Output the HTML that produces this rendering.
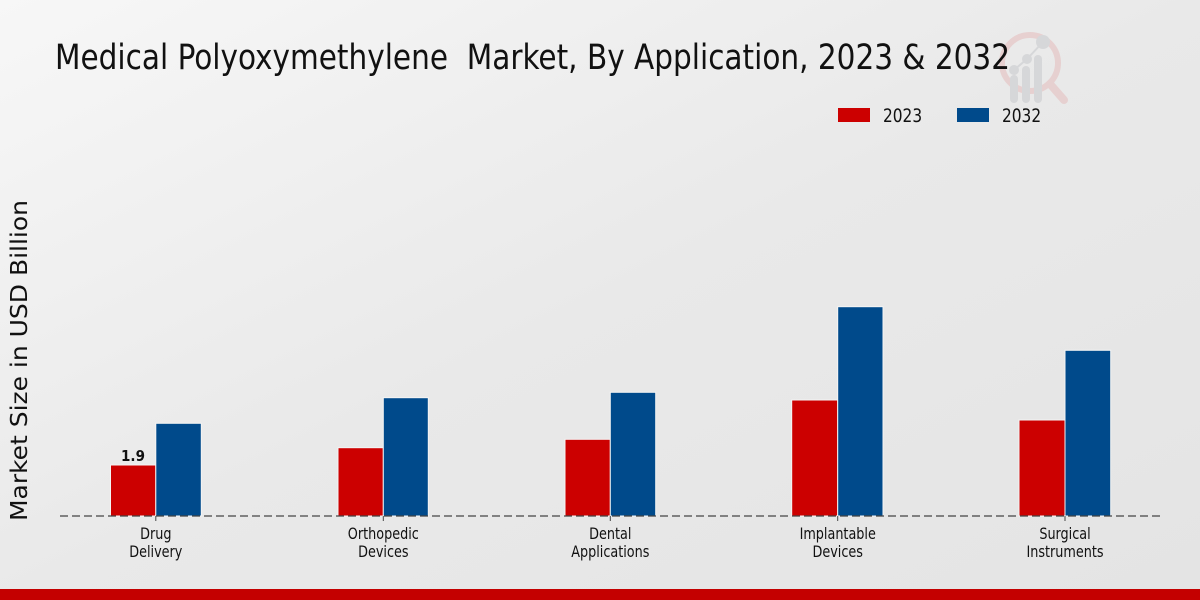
<!DOCTYPE html>
<html><head><meta charset="utf-8"><style>
html,body{margin:0;padding:0;width:1200px;height:600px;overflow:hidden}
svg{display:block}
text{font-family:"DejaVu Sans Condensed","DejaVu Sans","Liberation Sans",sans-serif;}
</style></head><body>
<svg width="1200" height="600" viewBox="0 0 1200 600" xmlns="http://www.w3.org/2000/svg">
<defs>
<linearGradient id="bg" x1="0" y1="0" x2="1" y2="1">
<stop offset="0" stop-color="#f7f7f7"/>
<stop offset="0.5" stop-color="#e9e9e9"/>
<stop offset="1" stop-color="#e4e4e4"/>
</linearGradient>
</defs>
<rect x="0" y="0" width="1200" height="600" fill="url(#bg)"/>
<!-- logo watermark -->
<g opacity="0.75">
<circle cx="1030" cy="63" r="28" fill="none" stroke="#e6c8c8" stroke-width="6"/>
<line x1="1050" y1="84" x2="1064" y2="100" stroke="#e6c8c8" stroke-width="8" stroke-linecap="round"/>
<rect x="1010" y="75" width="8" height="28" rx="4" fill="#d0d1d4"/>
<rect x="1022" y="66" width="8" height="37" rx="4" fill="#d0d1d4"/>
<rect x="1034" y="55" width="8" height="48" rx="4" fill="#d0d1d4"/>
<circle cx="1014" cy="70" r="5" fill="#d0d1d4"/>
<circle cx="1027" cy="59" r="5" fill="#d0d1d4"/>
<circle cx="1043" cy="42" r="7" fill="#d0d1d4"/>
<polyline points="1014,70 1027,59 1043,42" fill="none" stroke="#d0d1d4" stroke-width="2"/>
</g>
<!-- title -->
<text x="55" y="69" font-size="35" fill="#111" textLength="955" lengthAdjust="spacingAndGlyphs">Medical Polyoxymethylene&#160; Market, By Application, 2023 &amp; 2032</text>
<!-- legend -->
<rect x="838" y="108" width="32" height="14" fill="#cc0000"/>
<g transform="translate(883,122) scale(0.9,1)"><text x="0" y="0" font-size="19" fill="#111">2023</text></g>
<rect x="957" y="108" width="32" height="14" fill="#004a8b"/>
<g transform="translate(1002,122) scale(0.9,1)"><text x="0" y="0" font-size="19" fill="#111">2032</text></g>
<!-- y axis label -->
<text transform="translate(27,521) rotate(-90)" x="0" y="0" font-size="23" fill="#111" font-family="DejaVu Sans, sans-serif" textLength="321" lengthAdjust="spacingAndGlyphs">Market Size in USD Billion</text>
<!-- bars -->
<g stroke="#f4f4f4" stroke-width="1">
<rect x="110.5" y="465" width="45.3" height="51" fill="#cc0000"/>
<rect x="155.8" y="423.3" width="45.5" height="92.7" fill="#004a8b"/>
<rect x="338" y="447.7" width="45.3" height="68.3" fill="#cc0000"/>
<rect x="383.3" y="397.7" width="45" height="118.3" fill="#004a8b"/>
<rect x="565" y="439.3" width="45.3" height="76.7" fill="#cc0000"/>
<rect x="610.3" y="392.3" width="45.4" height="123.7" fill="#004a8b"/>
<rect x="791.7" y="400" width="46" height="116" fill="#cc0000"/>
<rect x="837.7" y="306.7" width="45.3" height="209.3" fill="#004a8b"/>
<rect x="1019" y="420" width="46" height="96" fill="#cc0000"/>
<rect x="1065" y="350.3" width="45.7" height="165.7" fill="#004a8b"/>
</g>
<!-- baseline -->
<line x1="60" y1="516" x2="1160" y2="516" stroke="#444" stroke-width="1.2" stroke-dasharray="8,4"/>
<g stroke="#444" stroke-width="1">
<line x1="155.8" y1="516" x2="155.8" y2="521"/>
<line x1="383.3" y1="516" x2="383.3" y2="521"/>
<line x1="610.3" y1="516" x2="610.3" y2="521"/>
<line x1="837.7" y1="516" x2="837.7" y2="521"/>
<line x1="1065" y1="516" x2="1065" y2="521"/>
</g>
<!-- data label -->
<text x="133" y="461" font-size="15" font-weight="bold" fill="#111" text-anchor="middle" font-family="DejaVu Sans, sans-serif">1.9</text>
<!-- category labels -->
<g font-size="16" fill="#111" text-anchor="middle">
<g transform="translate(155.8,0) scale(0.89,1)"><text x="0" y="539">Drug</text><text x="0" y="557">Delivery</text></g>
<g transform="translate(383.3,0) scale(0.89,1)"><text x="0" y="539">Orthopedic</text><text x="0" y="557">Devices</text></g>
<g transform="translate(610.3,0) scale(0.89,1)"><text x="0" y="539">Dental</text><text x="0" y="557">Applications</text></g>
<g transform="translate(837.7,0) scale(0.89,1)"><text x="0" y="539">Implantable</text><text x="0" y="557">Devices</text></g>
<g transform="translate(1065,0) scale(0.89,1)"><text x="0" y="539">Surgical</text><text x="0" y="557">Instruments</text></g>
</g>
<!-- bottom band -->
<rect x="0" y="589" width="1200" height="11" fill="#c40000"/>
</svg>
</body></html>
